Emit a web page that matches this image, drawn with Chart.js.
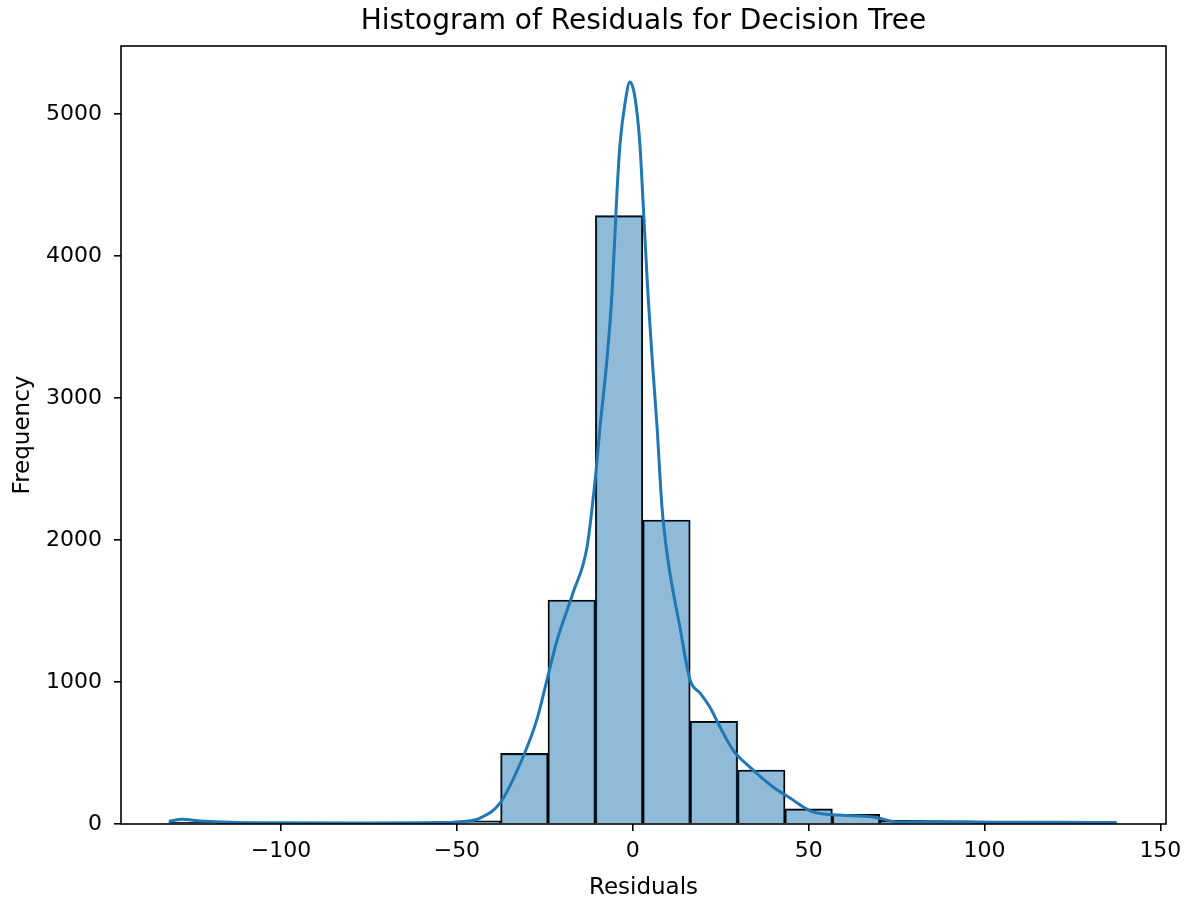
<!DOCTYPE html>
<html>
<head>
<meta charset="utf-8">
<title>Histogram of Residuals for Decision Tree</title>
<script src="https://cdn.jsdelivr.net/npm/chart.js@4.4.1/dist/chart.umd.min.js"></script>
<style>
    html, body { margin: 0; padding: 0; background: #fff; }
    #wrap { width: 1193px; height: 897px; }
</style>
</head>
<body>
<div id="wrap"><canvas id="residualsChart" width="1193" height="897"></canvas></div>
<script>
// 20 histogram bins: edges along the residual axis and the count in each bin
const binEdges = [-131.9, -118.43, -104.95, -91.48, -78.0, -64.53, -51.05, -37.58, -24.1, -10.63,
    2.85, 16.33, 29.8, 43.28, 56.75, 70.23, 83.7, 97.18, 110.65, 124.13, 137.6];
const binCounts = [14, 3, 2, 1, 2, 4, 22, 497, 1577, 4284,
    2141, 723, 380, 106, 68, 25, 5, 3, 2, 4];

// kde curve, scaled to counts
const kdeX = [-131.9, -128.2, -122.9, -114.5, -100.3, -80.4, -60.5, -54.8, -49.1, -43.4,
    -37.7, -31.2, -27.2, -24.4, -21.5, -17.0, -13.0, -10.7, -9.3, -7.3,
    -5.9, -4.5, -3.6, -2.2, -0.8, 0.6, 2.0, 2.9, 4.3, 5.5,
    6.9, 8.3, 10.0, 13.4, 16.3, 19.1, 21.9, 24.8, 28.5, 33.3,
    39.9, 44.7, 51.2, 58.8, 68.2, 75.9, 85.3, 104.4, 120.0, 137.6];
const kdeY = [20, 33, 22, 12, 8, 7, 8, 10, 15, 42,
    148, 472, 740, 1014, 1296, 1627, 1951, 2423, 2796, 3282,
    3739, 4444, 4796, 5077, 5225, 5120, 4796, 4394, 3739, 3282,
    2796, 2232, 1859, 1387, 1014, 923, 824, 683, 521, 401,
    261, 183, 85, 63, 49, 14, 18, 12, 12, 10];

const xTicks = [-100, -50, 0, 50, 100, 150];
const yTicks = [0, 1000, 2000, 3000, 4000, 5000];

document.addEventListener('DOMContentLoaded', function() {
    Chart.defaults.font.family = "'DejaVu Sans', sans-serif";
    Chart.defaults.color = '#000';

    const bars = binCounts.map((count, i) => ({
        x: (binEdges[i] + binEdges[i + 1]) / 2,
        y: count
    }));
    const kde = kdeX.map((x, i) => ({ x: x, y: kdeY[i] }));

    // matplotlib style box around the plot area
    const framePlugin = {
        id: 'frame',
        afterDatasetsDraw(chart) {
            const { ctx, chartArea } = chart;
            ctx.save();
            ctx.strokeStyle = '#000';
            ctx.lineWidth = 1.6;
            ctx.strokeRect(chartArea.left, chartArea.top,
                chartArea.right - chartArea.left, chartArea.bottom - chartArea.top);
            ctx.restore();
        }
    };

    const minusSign = v => (v < 0 ? '\u2212' + Math.abs(v) : String(v));

    const ctx = document.getElementById('residualsChart').getContext('2d');
    new Chart(ctx, {
        type: 'bar',
        data: {
            datasets: [{
                type: 'line',
                data: kde,
                borderColor: '#1f77b4',
                borderWidth: 3,
                pointRadius: 0,
                fill: false,
                cubicInterpolationMode: 'monotone',
                order: 0
            }, {
                type: 'bar',
                data: bars,
                backgroundColor: 'rgba(31, 119, 180, 0.5)',
                borderColor: '#000',
                borderWidth: 1.4,
                barPercentage: 1,
                categoryPercentage: 1,
                grouped: false,
                order: 1
            }]
        },
        options: {
            responsive: false,
            devicePixelRatio: 1,
            animation: false,
            events: [],
            layout: {
                padding: { left: 0, right: 27, top: 0, bottom: 0 }
            },
            plugins: {
                legend: { display: false },
                tooltip: { enabled: false },
                title: {
                    display: true,
                    fullSize: false,
                    text: 'Histogram of Residuals for Decision Tree',
                    font: { size: 28, weight: 'normal' },
                    color: '#000',
                    padding: { top: 4.9, bottom: 7.5 }
                }
            },
            scales: {
                x: {
                    type: 'linear',
                    min: -145.5,
                    max: 151.6,
                    offset: false,
                    grid: {
                        offset: false,
                        drawOnChartArea: false,
                        drawTicks: true,
                        tickLength: 7,
                        color: '#000',
                        lineWidth: 1.6
                    },
                    border: { display: false },
                    afterBuildTicks: function(axis) {
                        axis.ticks = xTicks.map(v => ({ value: v }));
                    },
                    afterFit: function(axis) {
                        axis.height = 73;
                    },
                    ticks: {
                        font: { size: 22 },
                        padding: 7.3,
                        maxRotation: 0,
                        callback: minusSign
                    },
                    title: {
                        display: true,
                        text: 'Residuals',
                        font: { size: 23, lineHeight: 0.8 },
                        padding: { top: 0, bottom: 0 }
                    }
                },
                y: {
                    min: 0,
                    max: 5479,
                    grid: {
                        drawOnChartArea: false,
                        drawTicks: true,
                        tickLength: 7,
                        color: '#000',
                        lineWidth: 1.6
                    },
                    border: { display: false },
                    afterBuildTicks: function(axis) {
                        axis.ticks = yTicks.map(v => ({ value: v }));
                    },
                    afterFit: function(axis) {
                        axis.width = 121;
                    },
                    ticks: {
                        font: { size: 22 },
                        padding: 12,
                        callback: minusSign
                    },
                    title: {
                        display: true,
                        text: 'Frequency',
                        font: { size: 23 },
                        padding: { top: 9, bottom: 0 }
                    }
                }
            }
        },
        plugins: [framePlugin]
    });
});
</script>
</body>
</html>
